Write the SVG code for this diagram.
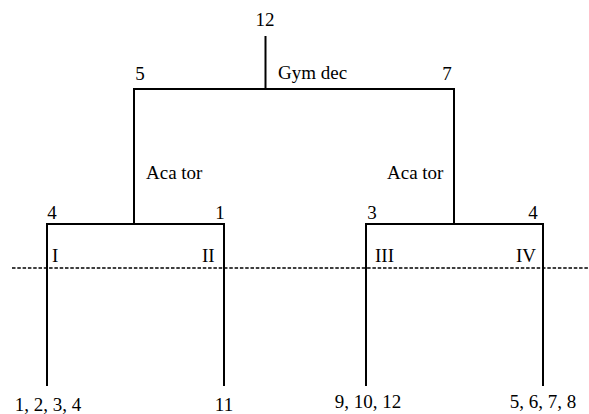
<svg xmlns="http://www.w3.org/2000/svg" width="589" height="414" viewBox="0 0 589 414">
<style>
text { font-family: "Liberation Serif", "Times New Roman", serif; font-size: 19px; fill: #000; }
.m { text-anchor: middle; }
.ln { stroke: #000; stroke-width: 2; fill: none; }
.dash { stroke: #000; stroke-width: 1.5; stroke-dasharray: 3.5 1.8; fill: none; }
</style>
<rect width="589" height="414" fill="#fff"/>
<g id="connectors">
  <path class="ln" d="M265.5 36 V89"/>
  <path class="ln" d="M134 224 V89 H454 V224"/>
  <path class="ln" d="M47 386 V224 H224 V386"/>
  <path class="ln" d="M366 386 V224 H543 V386"/>
  <line class="dash" x1="12" y1="268" x2="589" y2="268"/>
</g>
<g id="root"><text class="m" x="265" y="26">12</text></g>
<g id="gym"><text x="278" y="79">Gym dec</text><text class="m" x="140" y="80">5</text><text class="m" x="447" y="80">7</text></g>
<g id="aca-left"><text x="146" y="179">Aca tor</text><text class="m" x="52" y="219">4</text><text class="m" x="220" y="219">1</text></g>
<g id="aca-right"><text x="387" y="179">Aca tor</text><text class="m" x="372" y="219">3</text><text class="m" x="533" y="219">4</text></g>
<g id="I"><text x="52" y="262">I</text><text class="m" x="48" y="411">1, 2, 3, 4</text></g>
<g id="II"><text x="202" y="262">II</text><text class="m" x="224" y="411">11</text></g>
<g id="III"><text x="375" y="262">III</text><text class="m" x="368" y="408">9, 10, 12</text></g>
<g id="IV"><text x="516" y="262">IV</text><text class="m" x="543" y="408">5, 6, 7, 8</text></g>
</svg>
